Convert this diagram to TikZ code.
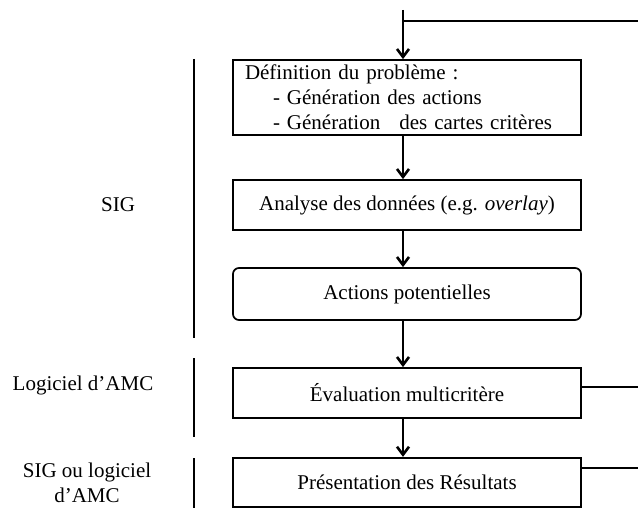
\documentclass[tikz,border=0pt]{standalone}
\usepackage{fontspec}
\setmainfont{Liberation Serif}
\usetikzlibrary{arrows.meta,calc}
\tikzset{
	etape/.style={draw=black, fill=white, minimum width=174pt, minimum height=25pt, inner sep=0pt},
	etaperonde/.style={etape, rounded corners=3pt},
	fleche/.style={draw=black, -{Straight Barb[length=4pt,width=6pt,line width=1.3pt]}},
	retour/.style={draw=black},
	outil/.style={draw=black},
}
\begin{document}
\begin{tikzpicture}[x=0.5pt, y=-0.5pt, line width=0.85pt, font=\fontsize{10.5}{12.5}\selectfont]
	\useasboundingbox (0,0) rectangle (638,508);
	%% etapes
	\node[etape, minimum height=37.5pt, text width=162pt, inner xsep=6pt, align=left] (def) at (407,97.5)
		{D\'efinition du probl\`eme :\\
		\hspace*{14pt}- G\'en\'eration des actions\\
		\hspace*{14pt}- G\'en\'eration\hspace{6pt} des cartes crit\`eres};
	\node[etape] (ana) at (407,205) {Analyse des donn\'ees (e.g. \textit{overlay})};
	\node[etaperonde, minimum height=26pt] (act) at (407,294) {Actions potentielles};
	\node[etape] (eva) at (407,393) {\'Evaluation multicrit\`ere};
	\node[etape, minimum height=24.5pt] (pre) at (407,482.25) {Pr\'esentation des R\'esultats};
	%% fleches
	\coordinate (axe) at (403,10);
	\draw[fleche] (axe) -- (axe |- def.north);
	\draw[fleche] (axe |- def.south) -- (axe |- ana.north);
	\draw[fleche] (axe |- ana.south) -- (axe |- act.north);
	\draw[fleche] (axe |- act.south) -- (axe |- eva.north);
	\draw[fleche] (axe |- eva.south) -- (axe |- pre.north);
	%% retours
	\coordinate (r1) at (638,21);
	\coordinate (r2) at (638,387);
	\coordinate (r3) at (638,468);
	\draw[retour] (axe |- r1) -- (r1);
	\draw[retour] (eva.east |- r2) -- (r2);
	\draw[retour] (pre.east |- r3) -- (r3);
	%% outils
	\draw[outil] (194,59) -- (194,338);
	\draw[outil] (194,358) -- (194,437);
	\draw[outil] (194,458) -- (194,508);
	\node (sig) at (118,205) {SIG};
	\node (amc) at (83,385) {Logiciel d'AMC};
	\node[align=center] (sigamc) at (87,483) {SIG ou logiciel\\d'AMC};
\end{tikzpicture}
\end{document}
